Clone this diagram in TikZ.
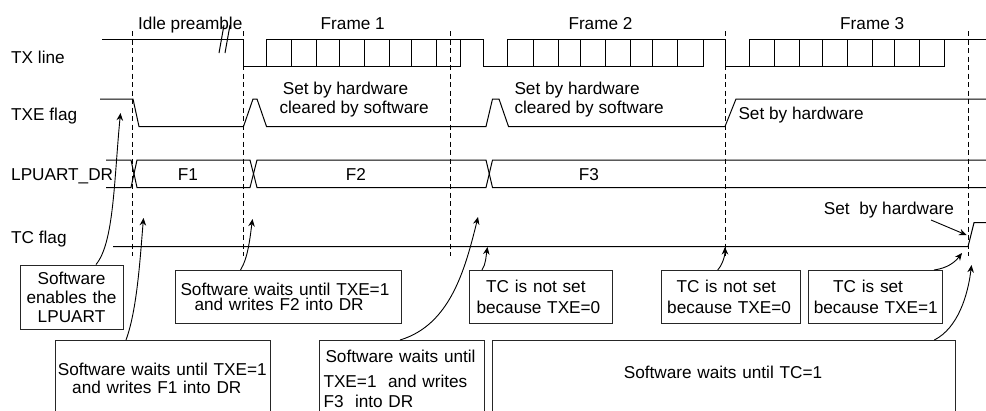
\documentclass[tikz,border=0pt]{standalone}
\usepackage{fontspec}
\setmainfont{Liberation Sans}
\usetikzlibrary{arrows.meta}
\tikzset{
    every node/.style={font=\fontsize{17.2}{20}\selectfont, text=black},
    lbl/.style={anchor=base west, inner sep=0pt},
    wave/.style={line width=1pt, black, line join=miter},
    guide/.style={line width=1pt, black, dash pattern=on 5pt off 3.5pt},
    notebox/.style={draw=black!85, line width=1pt, anchor=north west, inner xsep=0pt, inner ysep=0pt, align=left},
    note/.style={line width=0.9pt, black, -{Stealth[length=7.5pt,width=6.5pt]}},
}
\begin{document}
\begin{tikzpicture}[x=1pt,y=-1pt]
    \useasboundingbox (0,0) rectangle (986,410);

    % Guide lines
    \foreach \x in {132.5,243.5,450,725,968}
        \draw[guide] (\x,31) -- (\x,256);

    % Row labels
    \node[lbl] (txlabel) at (11,63.3) {TX line};
    \node[lbl] (txelabel) at (11,120) {TXE flag};
    \node[lbl] (drlabel) at (11,180) {LPUART\_DR};
    \node[lbl] (tclabel) at (11,243) {TC flag};

    % Frame titles
    \node[lbl] (idle) at (138,29) {Idle preamble};
    \node[lbl] (frameone) at (320.5,29) {Frame 1};
    \node[lbl] (frametwo) at (568.3,29) {Frame 2};
    \node[lbl] (framethree) at (840,29) {Frame 3};

    % TX line
    \draw[wave] (102,39.5) -- (243.5,39.5) -- (243.5,66) -- (460,66) -- (460,39.5);
    \draw[wave] (266,66) -- (266,39.5) -- (483,39.5) -- (483,66) -- (703,66) -- (703,39.5);
    \draw[wave] (507,66) -- (507,39.5) -- (725,39.5) -- (725,66) -- (944.7,66) -- (944.7,39.5);
    \draw[wave] (749,66) -- (749,39.5) -- (986,39.5);
    \foreach \f in {266,507.3,749}
        \foreach \d in {25.7,50.7,73.2,98.2,123.2,145.2,170.2}
            \draw[wave] (\f+\d,39.5) -- (\f+\d,66);

    % Break mark
    \draw[wave] (219,53) -- (224,25);
    \draw[wave] (225,53) -- (230,25);

    % TXE flag
    \draw[wave] (100,99) -- (133,99) -- (139,126.5) -- (243.5,126.5) -- (253,99) -- (257,99)
        -- (266.5,126.5) -- (486,126.5) -- (492.5,99) -- (499,99) -- (508.5,126.5) -- (725,126.5)
        -- (736,99) -- (986,99);

    % LPUART_DR
    \draw[wave] (106,160) -- (131,160) -- (137,187.5) -- (250,187.5) -- (257,160) -- (486,160)
        -- (492.5,187.5) -- (986,187.5);
    \draw[wave] (106,187.5) -- (131,187.5) -- (137,160) -- (250,160) -- (257,187.5) -- (486,187.5)
        -- (492.5,160) -- (986,160);
    \node[lbl] (fone) at (177.7,180) {F1};
    \node[lbl] (ftwo) at (345.7,180) {F2};
    \node[lbl] (fthree) at (578.7,180) {F3};

    % TC flag
    \draw[wave] (113,246.7) -- (968,246.7) -- (974,222.7) -- (986,222.7);

    % Flag remarks
    \node[lbl, align=left] (setcleara) at (279.3,113.3) {\hspace*{3.4pt}Set by hardware\\[-1pt]cleared by software};
    \node[lbl, align=left] (setclearb) at (514.3,113.3) {Set by hardware\\[-1pt]cleared by software};
    \node[lbl] (setc) at (738.3,119.3) {Set by hardware};
    \node[lbl] (settc) at (823.7,214) {Set\ \ by hardware};

    % Boxes
    \node[notebox, align=center, text width=103pt, minimum height=64.2pt] (enablebox) at (19.5,264.5)
        {Software\\[-1pt]enables the\\[-1pt]LPUART};
    \node[notebox, text width=226pt, minimum height=52.5pt] (ftwobox) at (175,270)
        {\hspace*{5pt}Software waits until TXE=1\\[-5pt]\hspace*{19pt}and writes F2 into DR};
    \node[notebox, text width=143pt, minimum height=52.5pt] (tcboxa) at (469,270)
        {\hspace*{16.7pt}TC is not set\\[1.7pt]\hspace*{7pt}because TXE=0};
    \node[notebox, text width=139pt, minimum height=52.5pt] (tcboxb) at (661,270)
        {\hspace*{15pt}TC is not set\\[1.7pt]\hspace*{5.7pt}because TXE=0};
    \node[notebox, text width=133.7pt, minimum height=52.5pt] (tcboxc) at (808,270)
        {\hspace*{24.7pt}TC is set\\[1.7pt]\hspace*{5.3pt}because TXE=1};

    % Boxes cut off by the page
    \node[notebox, text width=215pt, minimum height=76pt] (fonebox) at (55,340)
        {\hspace*{2.3pt}Software waits until TXE=1\\[-1.7pt]\hspace*{16.7pt}and writes F1 into DR};
    \node[notebox, text width=165pt, minimum height=77.6pt] (fthreebox) at (319,340)
        {\hspace*{6pt}Software waits until\\[4.4pt]\hspace*{4pt}TXE=1\ \ and writes\\[0.6pt]\hspace*{4pt}F3\ \ into DR};
    \node[notebox, text width=463pt, inner ysep=26pt, text depth=20pt] (waitbox) at (492,340)
        {\hspace*{131.3pt}Software waits until TC=1};

    % Arrow tips
    \coordinate (tipen) at (120.5,113);
    \coordinate (tipfa) at (143.5,218);
    \coordinate (tipfb) at (252.5,219);
    \coordinate (tipfc) at (478,217);
    \coordinate (tiptca) at (487.5,247);
    \coordinate (tiptcb) at (725,247);
    \coordinate (tiptcc) at (962,253);
    \coordinate (tipwait) at (971.5,265);
    \coordinate (tipset) at (966.5,235);

    % Arrows
    \draw[note] ([xshift=76.5pt]enablebox.north west) .. controls (114,243) and (114,180) .. (tipen);
    \draw[note] ([xshift=71pt]fonebox.north west) .. controls (137,310) and (140,260) .. (tipfa);
    \draw[note] ([xshift=65.5pt]ftwobox.north west) .. controls (248,258) and (250,238) .. (tipfb);
    \draw[note] ([xshift=81pt]fthreebox.north west) .. controls (450,325) and (465,270) .. (tipfc);
    \draw[note] ([xshift=13pt]tcboxa.north west) .. controls (486,264) and (486,256) .. (tiptca);
    \draw[note] ([xshift=56.7pt]tcboxb.north west) .. controls (723,264) and (725,255) .. (tiptcb);
    \draw[note] ([xshift=126pt]tcboxc.north west) .. controls (948,268) and (955,262) .. (tiptcc);
    \draw[note] ([xshift=442.3pt]waitbox.north west) .. controls (958,328) and (968,295) .. (tipwait);
    \draw[note] (931,220) -- (tipset);
\end{tikzpicture}
\end{document}
